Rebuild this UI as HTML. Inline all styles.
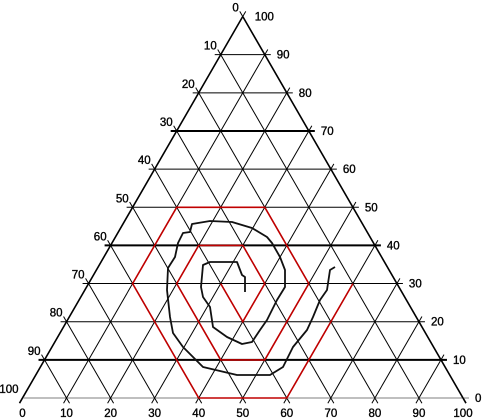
<!DOCTYPE html>
<html><head><meta charset="utf-8"><style>
html,body{margin:0;padding:0;background:#fff}
svg{display:block}
text{font-family:"Liberation Sans",Arial,sans-serif;font-size:11.5px;fill:#000;stroke:#000;stroke-width:0.35}
</style></head><body>
<svg id="chart" width="483" height="419" viewBox="0 0 483 419" xmlns="http://www.w3.org/2000/svg">
<g id="grid"></g>
<g id="series"></g>
<g id="labels"></g>
</svg>
<script>
// data: [bottom%, height%]
const ticks = [0,10,20,30,40,50,60,70,80,90,100];
const thickLevels = [10,40,70];
const redB = [30,40,40,30,20,20,40,50,50,30,10,10,40,60,60];
const redH = [30,20,30,40,40,30,10,10,30,50,50,30,0,0,30];
const curveX = [245,245,242,237,210,203,201,203,210,213,227,242,252,260,267,277,285,285,280,272,267,252,232,210,192,190,183,178,175,168,167,170,173,183,193,203,237,270,283,293,307,313,320,327,330,335];
const curveY = [292,277,275,262,262,265,287,297,307,327,337,344,342,330,320,300,287,270,257,243,237,228,222,221,224,232,233,243,257,268,290,317,333,347,357,367,375,375,367,347,330,317,300,290,270,267];

const X0=22.5, Y0=398, W=440.5, H=W*Math.sqrt(3)/2;
function px(b,h){return X0+W*b/100+W*h/200;}
function py(h){return Y0-H*h/100;}
const NS="http://www.w3.org/2000/svg";
function line(g,x1,y1,x2,y2,w,col,dash){
  const l=document.createElementNS(NS,'line');
  l.setAttribute('x1',x1);l.setAttribute('y1',y1);l.setAttribute('x2',x2);l.setAttribute('y2',y2);
  l.setAttribute('stroke',col);l.setAttribute('stroke-width',w);
  if(dash)l.setAttribute('stroke-dasharray',dash);
  g.appendChild(l);return l;
}
const grid=document.getElementById('grid');
const E=6;
const ux=0.5, uy=Math.sqrt(3)/2;
ticks.forEach(v=>{
  if(v<100){
    const xa=px(0,v), xb=px(100-v,v), y=py(v);
    const thick=thickLevels.includes(v);
    const l=line(grid,xa-(v>0?E:0),y,xb+E,y,v===0?1:(thick?2:1),'#000',v===0?'1,1':null);
    
    
  }
  if(v<100){
    const x1=px(v,0),y1=py(0),x2=px(v,100-v),y2=py(100-v);
    const l=line(grid,x1-ux*E,y1+uy*E,x2+(v>0?ux*E:0),y2-(v>0?uy*E:0),v===0?1.6:1,'#000');
    
    
  }
  if(v>0){
    const x1=px(v,0),y1=py(0),x2=px(0,v),y2=py(v);
    const l=line(grid,x1+ux*E,y1+uy*E,x2-(v<100?ux*E:0),y2-(v<100?uy*E:0),v===100?1.6:1,'#000');
    
    
  }
});
line(grid,px(0,100)-ux*E,py(100)-uy*E,px(0,100),py(100),1,'#000');
line(grid,px(0,100)+ux*E,py(100)-uy*E,px(0,100),py(100),1,'#000');

const series=document.getElementById('series');
const rp=document.createElementNS(NS,'polyline');
rp.setAttribute('points',redB.map((b,i)=>px(b,redH[i]).toFixed(1)+','+py(redH[i]).toFixed(1)).join(' '));
rp.setAttribute('fill','none');rp.setAttribute('stroke','#c00000');rp.setAttribute('stroke-width','1.6');


series.appendChild(rp);
const cp=document.createElementNS(NS,'polyline');
cp.setAttribute('points',curveX.map((x,i)=>x+','+curveY[i]).join(' '));
cp.setAttribute('fill','none');cp.setAttribute('stroke','#111');cp.setAttribute('stroke-width','1.8');cp.setAttribute('stroke-linejoin','round');


series.appendChild(cp);

const labels=document.getElementById('labels');
function txt(x,y,s,anchor,name){
  const t=document.createElementNS(NS,'text');
  t.setAttribute('x',x);t.setAttribute('y',y);t.setAttribute('text-anchor',anchor);
  t.textContent=s;
  
  
  labels.appendChild(t);
}
ticks.forEach(v=>{
  txt(px(v,0),py(0)+19,String(v),'middle','bottom-label-'+v);
  const hl=100-v;
  txt(px(0,hl)-4,py(hl)-5,String(v),'end','left-label-'+v);
  txt(px(100-v,v)+12,py(v)+4,String(v),'start','right-label-'+v);
});
</script>
</body></html>
